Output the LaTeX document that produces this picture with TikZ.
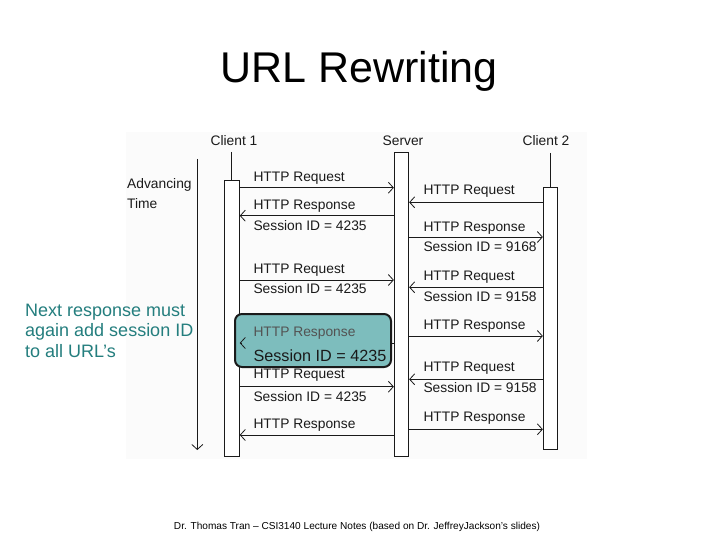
\documentclass[tikz,border=0pt]{standalone}
\usepackage{fontspec}
\setmainfont{Liberation Sans}
\usetikzlibrary{arrows.meta}
\definecolor{teal1}{HTML}{247E7E}
\definecolor{boxfill}{HTML}{7DBDBD}
\definecolor{ink}{HTML}{1A1A1A}
\definecolor{diagbg}{HTML}{FBFBFB}
\begin{document}
\begin{tikzpicture}[x=1pt,y=-1pt,
  life/.style={draw=ink, line width=0.9pt, fill=white, minimum width=15pt, inner sep=0pt, anchor=north},
  msg/.style={draw=ink, line width=0.8pt, -{Straight Barb[length=5pt,width=11pt,line width=0.8pt]}},
  lbl/.style={font=\fontsize{13.8}{16}\selectfont, text=ink, anchor=base west, inner sep=0pt},
  hdr/.style={font=\fontsize{13.8}{16}\selectfont, text=ink, anchor=base, inner sep=0pt},
  note/.style={font=\fontsize{18}{21}\selectfont, text=teal1, anchor=base west, inner sep=0pt}]
\useasboundingbox (0,0) rectangle (720,540);
\fill[white] (0,0) rectangle (720,540);
\fill[diagbg] (126,132) rectangle (587,459);

% title and footer
\node[font=\fontsize{43}{48}\selectfont, anchor=base, inner sep=0pt] (title) at (359,83) {URL Rewriting};
\node[font=\fontsize{10.1}{12}\selectfont, anchor=base, inner sep=0pt] (foot) at (357,529) {Dr. Thomas Tran -- CSI3140 Lecture Notes (based on Dr. JeffreyJackson's slides)};

% headers
\node[hdr] (h1) at (234,145.5) {Client 1};
\node[hdr] (h2) at (403,145.5) {Server};
\node[hdr] (h3) at (546,145.5) {Client 2};

% advancing time
\node[lbl] (adv) at (127,188.5) {Advancing};
\node[lbl] (tim) at (127,209) {Time};
\coordinate (t0) at (197.3,159);
\coordinate (t1) at (197.3,450);
\draw[msg] (t0) -- (t1);

% lifelines
\coordinate (c1top) at (231.8,152);
\coordinate (c2top) at (550.5,153);
\node[life, minimum height=276pt] (c1) at (231.8,180) {};
\node[life, minimum width=14.4pt, minimum height=304.3pt] (sv) at (401.5,151.7) {};
\node[life, minimum width=14.4pt, minimum height=262pt] (c2) at (550.5,187.3) {};
\draw[ink, line width=0.9pt] (c1top) -- (c1.north);
\draw[ink, line width=0.9pt] (c2top) -- (c2.north);

% client 1 <-> server
\draw[msg] (c1.east |- 0,187.7) -- (sv.west |- 0,187.7);
\node[lbl] (m1) at (253.3,181.5) {HTTP Request};
\draw[msg] (sv.west |- 0,215.7) -- (c1.east |- 0,215.7);
\node[lbl] (m2a) at (253.3,210) {HTTP Response};
\node[lbl] (m2b) at (253.3,230) {Session ID = 4235};
\draw[msg] (c1.east |- 0,280) -- (sv.west |- 0,280);
\node[lbl] (m3a) at (253.3,273) {HTTP Request};
\node[lbl] (m3b) at (253.3,293.5) {Session ID = 4235};

% highlighted response
\draw[msg] (sv.west |- 0,343) -- (c1.east |- 0,343);
\node[draw=ink, line width=2pt, rounded corners=7pt, fill=boxfill, minimum width=156pt, minimum height=53pt, anchor=north west, inner sep=0pt] (hl) at (234,313) {};
\coordinate (hk) at (242,343);
\draw[msg] (hk) -- (c1.east |- hk);
\node[lbl, text=ink!75] (m4a) at (253.3,336.5) {HTTP Response};
\node[lbl, font=\fontsize{16.2}{18}\selectfont] (m4b) at (253.3,361.5) {Session ID = 4235};

\draw[msg] (c1.east |- 0,386.7) -- (sv.west |- 0,386.7);
\node[lbl] (m5a) at (253.3,378) {HTTP Request};
\node[lbl] (m5b) at (253.3,401) {Session ID = 4235};
\draw[msg] (sv.west |- 0,435) -- (c1.east |- 0,435);
\node[lbl] (m6) at (253.3,428) {HTTP Response};

% client 2 <-> server
\draw[msg] (c2.west |- 0,202.3) -- (sv.east |- 0,202.3);
\node[lbl] (n1) at (423.3,195) {HTTP Request};
\draw[msg] (sv.east |- 0,237) -- (c2.west |- 0,237);
\node[lbl] (n2a) at (423.3,231) {HTTP Response};
\node[lbl] (n2b) at (423.3,251.5) {Session ID = 9168};
\draw[msg] (c2.west |- 0,287.3) -- (sv.east |- 0,287.3);
\node[lbl] (n3a) at (423.3,280) {HTTP Request};
\node[lbl] (n3b) at (423.3,301) {Session ID = 9158};
\draw[msg] (sv.east |- 0,336) -- (c2.west |- 0,336);
\node[lbl] (n4) at (423.3,329) {HTTP Response};
\draw[msg] (c2.west |- 0,379.3) -- (sv.east |- 0,379.3);
\node[lbl] (n5a) at (423.3,371.5) {HTTP Request};
\node[lbl] (n5b) at (423.3,392.5) {Session ID = 9158};
\draw[msg] (sv.east |- 0,429.3) -- (c2.west |- 0,429.3);
\node[lbl] (n6) at (423.3,421.5) {HTTP Response};

% note
\node[note] (a1) at (25,316) {Next response must};
\node[note] (a2) at (25,336.5) {again add session ID};
\node[note] (a3) at (25,357) {to all URL’s};
\end{tikzpicture}
\end{document}
